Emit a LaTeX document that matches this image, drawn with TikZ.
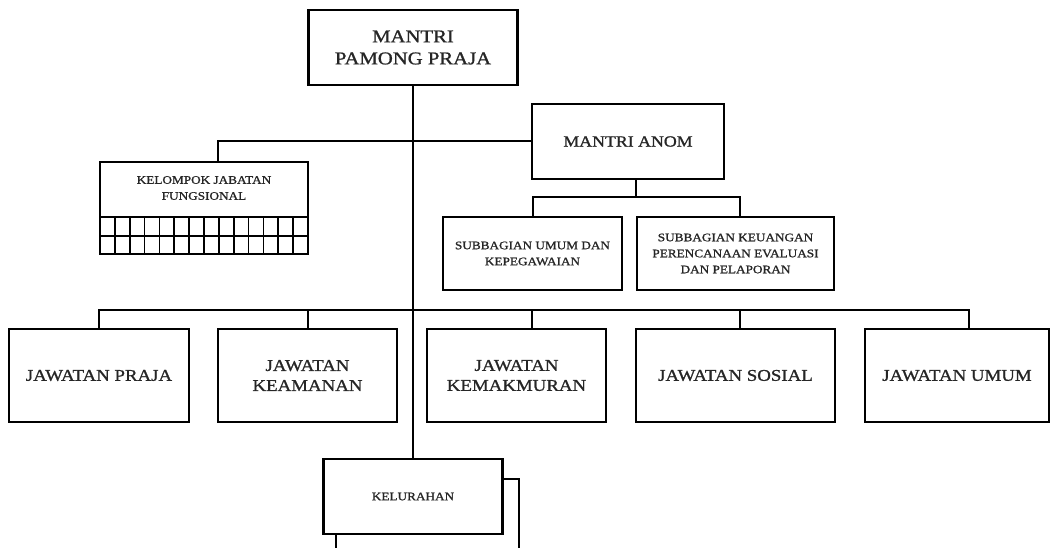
\documentclass[tikz,border=0pt]{standalone}
\usepackage{fontspec}
\setmainfont{Liberation Serif}[FakeStretch=1.15,FakeBold=1.1]
\begin{document}
\begin{tikzpicture}[x=1pt,y=-1pt,
  box/.style={draw, line width=2.4pt, rectangle, inner sep=2pt, align=center, text=black!85},
  con/.style={line width=2pt},
  gridline/.style={line width=1.8pt},
  big/.style={font=\fontsize{18}{22}\selectfont},
  mid/.style={font=\fontsize{15.5}{20}\selectfont},
  jaw/.style={font=\fontsize{16.4}{20}\selectfont},
  small/.style={font=\fontsize{11.5}{16}\selectfont}]
\useasboundingbox (0,0) rectangle (1052,548);
\fill[white] (0,0) rectangle (1052,548);

% top
\node[box,big,minimum width=209pt,minimum height=75pt] (mpp) at (413,47.5) {MANTRI\\PAMONG PRAJA};
\node[box,mid,minimum width=192pt,minimum height=75pt] (anom) at (628,141.5) {MANTRI ANOM};

% kelompok jabatan fungsional
\node[box,minimum width=208pt,minimum height=92pt] (kjf) at (204,208) {};
\node[small,align=center,text=black!85] (kjft) at (204,188) {KELOMPOK JABATAN\\FUNGSIONAL};
\draw[gridline] (100,217) -- (308,217);
\draw[gridline] (100,236) -- (308,236);
\foreach \i in {1,...,13} {
  \draw[gridline] ({100+\i*208/14},217) -- ({100+\i*208/14},254);
}

% subbagian
\node[box,small,minimum width=179pt,minimum height=73pt] (sub1) at (532.5,253.5) {SUBBAGIAN UMUM DAN\\KEPEGAWAIAN};
\node[box,small,minimum width=197pt,minimum height=73pt] (sub2) at (735.5,253.5) {SUBBAGIAN KEUANGAN\\PERENCANAAN EVALUASI\\DAN PELAPORAN};

% jawatan
\node[box,jaw,minimum width=180pt,minimum height=93pt] (praja) at (99,375.5) {JAWATAN PRAJA};
\node[box,jaw,minimum width=179pt,minimum height=93pt] (keam) at (307.5,375.5) {JAWATAN\\KEAMANAN};
\node[box,jaw,minimum width=179pt,minimum height=93pt] (kemak) at (516.5,375.5) {JAWATAN\\KEMAKMURAN};
\node[box,jaw,minimum width=199pt,minimum height=93pt] (sosial) at (735.5,375.5) {JAWATAN SOSIAL};
\node[box,jaw,minimum width=184pt,minimum height=93pt] (umum) at (957,375.5) {JAWATAN UMUM};

% kelurahan
\node[box,small,minimum width=179pt,minimum height=75pt] (kel) at (413,496.5) {KELURAHAN};

% connectors
\draw[con] (mpp.south) -- (kel.north);
\draw[con] ([xshift=14pt]kjf.north) |- (anom.west);

\coordinate (b2) at (636,197);
\draw[con] (anom.south -| b2) -- (b2);
\draw[con] (sub1.north) |- (b2);
\draw[con] (b2) -| ([xshift=4pt]sub2.north);

\coordinate (b3) at (413,310);
\draw[con] (praja.north) |- (b3);
\draw[con] (b3) -| ([xshift=11.5pt]umum.north);
\draw[con] ([xshift=0.5pt]keam.north) -- ([xshift=0.5pt]keam.north |- b3);
\draw[con] ([xshift=15pt]kemak.north) -- ([xshift=15pt]kemak.north |- b3);
\draw[con] ([xshift=4.5pt]sosial.north) -- ([xshift=4.5pt]sosial.north |- b3);

% stacked kelurahan outline
\draw[con] ([yshift=17.5pt]kel.east) -- ++(15,0) -- ++(0,70);
\draw[con] ([xshift=14pt]kel.south west) -- ++(0,20);
\end{tikzpicture}
\end{document}
